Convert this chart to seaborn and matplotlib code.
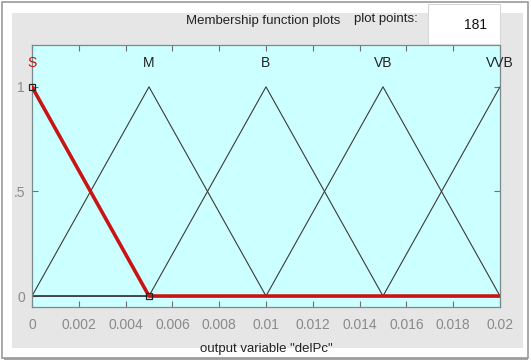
import numpy as np
import pandas as pd
import seaborn as sns
import matplotlib
matplotlib.use("Agg")
import matplotlib.pyplot as plt
from matplotlib.patches import Rectangle

sns.set_theme(style="white")
plt.rcParams['font.family'] = ['Liberation Sans', 'DejaVu Sans']

# Data: triangular membership functions (a, b, c) on output variable "delPc"
mf_names = ["S", "M", "B", "VB", "VVB"]
mf_a = [-0.005, 0.0, 0.005, 0.010, 0.015]
mf_b = [0.0, 0.005, 0.010, 0.015, 0.020]
mf_c = [0.005, 0.010, 0.015, 0.020, 0.025]
n_points = 181
x_min, x_max = 0.0, 0.02
x_ticks = [0, 0.002, 0.004, 0.006, 0.008, 0.01, 0.012, 0.014, 0.016, 0.018, 0.02]
x_tick_labels = ["0", "0.002", "0.004", "0.006", "0.008", "0.01", "0.012", "0.014", "0.016", "0.018", "0.02"]
y_ticks = [0, 0.5, 1]
y_tick_labels = ["0", ".5", "1"]

xs = np.linspace(x_min, x_max, n_points)
rows = []
for name, a, b, c in zip(mf_names, mf_a, mf_b, mf_c):
    y = np.maximum(np.minimum((xs - a) / (b - a), (c - xs) / (c - b)), 0)
    rows.append(pd.DataFrame({"x": xs, "mu": y, "mf": name}))
df = pd.concat(rows, ignore_index=True)

W, H = 531, 362
fig = plt.figure(figsize=(W / 100, H / 100), dpi=100)
fig.patch.set_facecolor("white")

# outer frame and gray panel
fig.add_artist(Rectangle((2 / W, 1 - 358 / H), 526 / W, 356 / H, transform=fig.transFigure,
                         facecolor="white", edgecolor="#9a9a9a", lw=1.2, zorder=-3))
fig.add_artist(Rectangle((12 / W, 1 - 348 / H), 511 / W, 335 / H, transform=fig.transFigure,
                         facecolor="#e6e6e6", edgecolor="none", zorder=-2))
fig.add_artist(Rectangle((4 / W, 1 - 360 / H), 524 / W, 3 / H, transform=fig.transFigure,
                         facecolor="#6a6a6a", edgecolor="none", zorder=-4, alpha=0.6))

ax = fig.add_axes([32 / W, 1 - 306.5 / H, 468 / W, 261.5 / H])
ax.set_zorder(1)
ax.set_facecolor("#ccffff")

others = df[df["mf"] != "S"]
sns.lineplot(data=others, x="x", y="mu", units="mf", estimator=None, color="#3a3a3a",
             lw=0.8, ax=ax, legend=False, zorder=2)
sel = df[df["mf"] == "S"]
sns.lineplot(data=sel, x="x", y="mu", estimator=None, color="#c81414", lw=2.6, ax=ax,
             legend=False, zorder=3)

# square markers at the selected MF's vertices
s_idx = 0
ax.plot([mf_b[s_idx], mf_c[s_idx]], [1, 0], ls="none", marker="s", ms=5,
        mfc="none", mec="#222222", mew=0.9, zorder=4, clip_on=False)

# labels over peaks
for i, name in enumerate(mf_names):
    col = "#cc1010" if name == "S" else "#222222"
    ax.text(mf_b[i], 1.115, name, color=col, ha="center", va="center", fontsize=10,
            clip_on=False, zorder=5)

ax.set_xlim(x_min, x_max)
ax.set_ylim(-0.05, 1.2)
ax.set_xticks(x_ticks)
ax.set_xticklabels(x_tick_labels)
ax.set_yticks(y_ticks)
ax.set_yticklabels(y_tick_labels)
ax.tick_params(direction="in", length=4, width=0.8, color="#707070", labelcolor="#8a8a8a",
               labelsize=10, top=True, right=True, bottom=True, left=True)
ax.tick_params(axis="x", pad=8)
ax.tick_params(axis="y", pad=5)
for sp in ax.spines.values():
    sp.set_color("#7a8a8a")
    sp.set_linewidth(0.9)
ax.set_xlabel('output variable "delPc"', fontsize=9.5, color="#222222", labelpad=8)
ax.set_ylabel("")

# header
fig.text(263 / W, 1 - 21 / H, "Membership function plots", ha="center", va="center",
         fontsize=9.5, color="#222222", zorder=5)
fig.text(386 / W, 1 - 19 / H, "plot points:", ha="center", va="center",
         fontsize=9.5, color="#222222", zorder=5)
fig.add_artist(Rectangle((428 / W, 1 - 44 / H), 72 / W, 40 / H, transform=fig.transFigure,
                         facecolor="white", edgecolor="#d8d8d8", lw=0.8, zorder=10))
fig.text(487 / W, 1 - 25 / H, "181", ha="right", va="center",
         fontsize=10, color="#111111", zorder=11)

fig.savefig("out.png", dpi=100)
